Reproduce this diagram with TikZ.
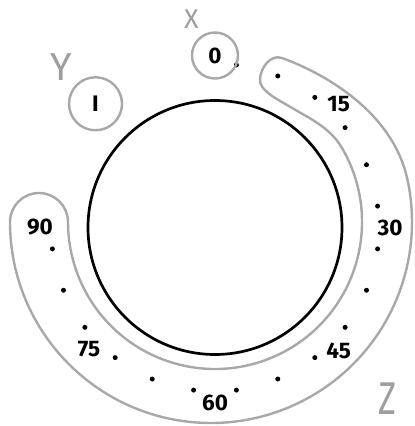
\documentclass[tikz,border=0pt]{standalone}
\usepackage{fontspec}
\setmainfont{Fira Sans}
\usetikzlibrary{calc,
	positioning}
\definecolor{ringgray}{RGB}{168,168,168}
\definecolor{axisgray}{RGB}{158,158,158}
\tikzstyle{ring}=[draw=ringgray, line width=2.4pt]
\tikzstyle{dial}=[draw=black, line width=2.7pt]
\tikzstyle{tick}=[circle, fill=black, inner sep=0, minimum size=5pt]
\tikzstyle{num}=[font=\fontsize{22.5}{22.5}\selectfont\bfseries, inner sep=0]
\tikzstyle{home}=[ring, circle, inner sep=0, font=\fontsize{22.5}{22.5}\selectfont\bfseries]
\tikzstyle{axis}=[text=axisgray, inner sep=0]

\begin{document}
\begin{tikzpicture}[x=1pt, y=1pt]
                \useasboundingbox (0,0) rectangle (415,426);
                \coordinate (dc) at (215,198.5);
                \coordinate (oc) at (211,204);
                \coordinate (ic) at (215,204);
                % scale band
                \draw[ring] ($(oc)+(180:201)$) arc[start angle=180, end angle=372, radius=201]
                    .. controls +(102:70) and +(-20:45) .. (282,368)
                    .. controls +(160:12) and +(90:12) .. (260,346)
                    .. controls +(-90:10) and +(150:15) .. (287,321)
                    .. controls +(-31:25) and +(120:25) .. ($(ic)+(30:147)$)
                    arc[start angle=30, end angle=-180, radius=147]
                    arc[start angle=0, end angle=180, radius=29] -- cycle;
                \draw[dial] (dc) circle[radius=127];
                % ticks and numbers
                \foreach \k in {0,...,17}
                    \node[tick] (t\k) at ($(dc)+({82.5-15*\k}:164)$) {};
                \foreach \v/\a in {15/45, 30/0, 45/-45, 60/-90, 75/-136, 90/180}
                    \node[num] (n\v) at ($(dc)+(\a:175)$) {\v};
                \node[home, minimum size=46pt] (zero) at ($(dc)+(90:172)$) {0};
                \node[home, minimum size=53pt] (one) at ($(dc)+(134:172)$) {I};
                % axes
                \node[axis, font=\fontsize{27}{27}\selectfont] (lx) at (191.5,407) {X};
                \node[axis, font=\fontsize{39}{39}\selectfont] (ly) at (60.8,359.3) {Y};
                \node[axis, font=\fontsize{46}{46}\selectfont, xscale=0.75] (lz) at (387.5,27) {Z};
            \end{tikzpicture}
\end{document}
